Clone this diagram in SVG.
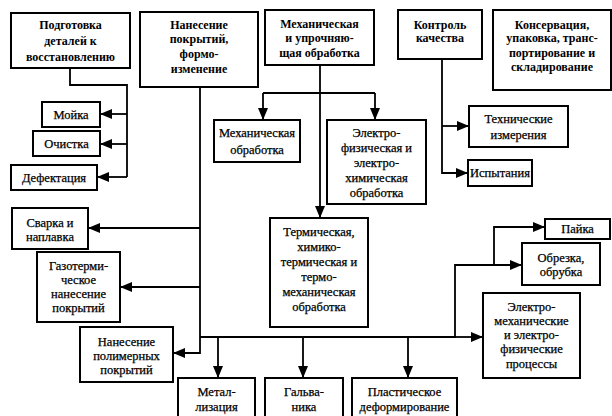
<svg xmlns="http://www.w3.org/2000/svg" width="612" height="416" viewBox="0 0 612 416">
<defs>
<marker id="arr" viewBox="0 0 12 10" refX="12" refY="5" markerWidth="12" markerHeight="10" markerUnits="userSpaceOnUse" orient="auto">
<path d="M0,0 L12,5 L0,10 Z" fill="#000"/>
</marker>
<style>
text{font-family:'Liberation Serif','Times New Roman','DejaVu Serif',serif}
.box{fill:#fff;stroke:#000;stroke-width:2}
.t{font-size:12.5px;text-anchor:middle;fill:#000;stroke:#000;stroke-width:0.25}
.h{font-size:12px;font-weight:bold;text-anchor:middle;fill:#000}
.c{fill:none;stroke:#000;stroke-width:1.8}
.a{fill:none;stroke:#000;stroke-width:1.8;marker-end:url(#arr)}
</style>
</defs>
<rect width="612" height="416" fill="#fff"/>
<g id="connectors">
<path class="c" d="M70,68 V85 H127 V177"/>
<path class="a" d="M127,114 H100"/>
<path class="a" d="M127,144 H100"/>
<path class="a" d="M127,177 H97"/>
<path class="a" d="M200,87 V353 H173"/>
<path class="a" d="M200,228 H88"/>
<path class="a" d="M200,287 H120"/>
<path class="a" d="M200,337 H455 V265 H522"/>
<path class="a" d="M455,337 H483"/>
<path class="a" d="M494,265 V227 H545"/>
<path class="a" d="M218,337 V378"/>
<path class="a" d="M303,337 V378"/>
<path class="a" d="M408,337 V378"/>
<path class="a" d="M320,65 V218"/>
<path class="c" d="M263,93 H375"/>
<path class="a" d="M263,93 V120"/>
<path class="a" d="M375,93 V120"/>
<path class="a" d="M442,59 V173 H468"/>
<path class="a" d="M442,126 H469"/>
</g>
<g id="n1"><rect class="box" x="11" y="13" width="119" height="55"/>
<text class="h" x="70.5" y="29">Подготовка</text><text class="h" x="70.5" y="45">деталей к</text><text class="h" x="70.5" y="61">восстановлению</text></g>
<g id="n2"><rect class="box" x="140" y="12" width="118" height="75"/>
<text class="h" x="199" y="29">Нанесение</text><text class="h" x="199" y="43">покрытий,</text><text class="h" x="199" y="58">формо-</text><text class="h" x="199" y="73">изменение</text></g>
<g id="n3"><rect class="box" x="265" y="10" width="109" height="55"/>
<text class="h" x="319.5" y="28">Механическая</text><text class="h" x="319.5" y="42">и упрочняю-</text><text class="h" x="319.5" y="57">щая обработка</text></g>
<g id="n4"><rect class="box" x="398" y="10" width="84" height="49"/>
<text class="h" x="440" y="29">Контроль</text><text class="h" x="440" y="42">качества</text></g>
<g id="n5"><rect class="box" x="493" y="10" width="118" height="80"/>
<text class="h" x="552" y="29">Консервация,</text><text class="h" x="552" y="42">упаковка, транс-</text><text class="h" x="552" y="57">портирование и</text><text class="h" x="552" y="71">складирование</text></g>
<g id="moyka"><rect class="box" x="42" y="102" width="58" height="25"/><text class="t" x="71" y="118.5">Мойка</text></g>
<g id="ochistka"><rect class="box" x="33" y="131" width="67" height="25"/><text class="t" x="66.5" y="148">Очистка</text></g>
<g id="defekt"><rect class="box" x="11" y="165" width="86" height="25"/><text class="t" x="54" y="182">Дефектация</text></g>
<g id="svarka"><rect class="box" x="12" y="208" width="76" height="41"/><text class="t" x="50" y="227">Сварка и</text><text class="t" x="50" y="241">наплавка</text></g>
<g id="gazo"><rect class="box" x="37" y="252" width="83" height="70"/><text class="t" x="78.5" y="270">Газотерми-</text><text class="t" x="78.5" y="284">ческое</text><text class="t" x="78.5" y="298">нанесение</text><text class="t" x="78.5" y="312">покрытий</text></g>
<g id="polim"><rect class="box" x="80" y="327" width="93" height="55"/><text class="t" x="126.5" y="346">Нанесение</text><text class="t" x="126.5" y="360">полимерных</text><text class="t" x="126.5" y="374">покрытий</text></g>
<g id="mech"><rect class="box" x="214" y="120" width="86" height="42"/><text class="t" x="257" y="137">Механическая</text><text class="t" x="257" y="154">обработка</text></g>
<g id="elfiz"><rect class="box" x="327" y="120" width="99" height="84"/><text class="t" x="376.5" y="137">Электро-</text><text class="t" x="376.5" y="152">физическая и</text><text class="t" x="376.5" y="167">электро-</text><text class="t" x="376.5" y="182">химическая</text><text class="t" x="376.5" y="197">обработка</text></g>
<g id="term"><rect class="box" x="270" y="218" width="98" height="109"/><text class="t" x="319" y="236">Термическая,</text><text class="t" x="319" y="251">химико-</text><text class="t" x="319" y="266">термическая и</text><text class="t" x="319" y="281">термо-</text><text class="t" x="319" y="296">механическая</text><text class="t" x="319" y="311">обработка</text></g>
<g id="tehizm"><rect class="box" x="469" y="106" width="99" height="41"/><text class="t" x="518.5" y="123">Технические</text><text class="t" x="518.5" y="139">измерения</text></g>
<g id="ispyt"><rect class="box" x="468" y="160" width="64" height="26"/><text class="t" x="500" y="177">Испытания</text></g>
<g id="payka"><rect class="box" x="545" y="219" width="65" height="20"/><text class="t" x="577.5" y="233">Пайка</text></g>
<g id="obrezka"><rect class="box" x="522" y="243" width="78" height="42"/><text class="t" x="561" y="262">Обрезка,</text><text class="t" x="561" y="276">обрубка</text></g>
<g id="elmech"><rect class="box" x="483" y="293" width="97" height="85"/><text class="t" x="531.5" y="311">Электро-</text><text class="t" x="531.5" y="325">механические</text><text class="t" x="531.5" y="339">и электро-</text><text class="t" x="531.5" y="353">физические</text><text class="t" x="531.5" y="368">процессы</text></g>
<g id="metal"><rect class="box" x="178" y="378" width="77" height="44"/><text class="t" x="216.5" y="396">Метал-</text><text class="t" x="216.5" y="411">лизация</text></g>
<g id="galv"><rect class="box" x="265" y="378" width="78" height="44"/><text class="t" x="304" y="396">Гальва-</text><text class="t" x="304" y="411">ника</text></g>
<g id="plast"><rect class="box" x="352" y="378" width="105" height="44"/><text class="t" x="404.5" y="396">Пластическое</text><text class="t" x="404.5" y="411">деформирование</text></g>
</svg>
